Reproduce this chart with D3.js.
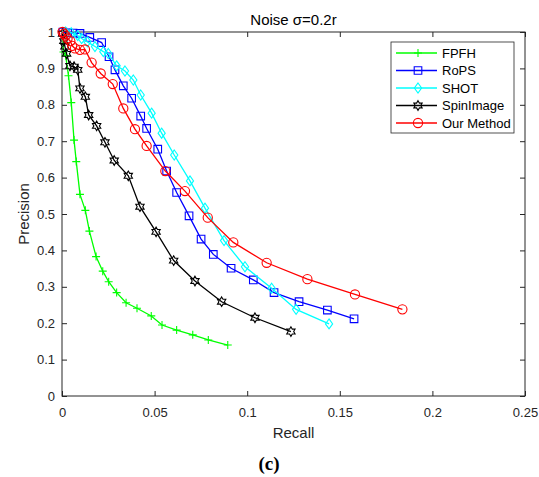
<!DOCTYPE html>
<html>
<head>
<meta charset="utf-8">
<script src="https://cdn.jsdelivr.net/npm/d3@7"></script>
<style>
  html, body { margin: 0; padding: 0; background: #fff; }
  svg { display: block; font-family: "Liberation Sans", Arial, sans-serif; }
  .axis text { fill: #262626; font-size: 13px; }
  .axis line, .axis path { stroke: #262626; }
  .legend text { font-size: 13px; fill: #000; }
</style>
</head>
<body>
<svg id="chart" width="539" height="477"></svg>
<script>
const seriesNames = ["FPFH", "RoPS", "SHOT", "SpinImage", "Our Method"];

const fpfhRecall    = [0.0005, 0.0008, 0.002, 0.0035, 0.005, 0.0065, 0.0077, 0.0097, 0.0126, 0.0148, 0.0184, 0.022, 0.0252, 0.0295, 0.0346, 0.0405, 0.0482, 0.054, 0.0619, 0.0706, 0.079, 0.0895];
const fpfhPrecision = [0.99, 0.945, 0.935, 0.88, 0.806, 0.703, 0.644, 0.554, 0.51, 0.453, 0.383, 0.343, 0.314, 0.284, 0.256, 0.241, 0.22, 0.195, 0.181, 0.168, 0.154, 0.14];

const ropsRecall    = [0.0005, 0.003, 0.006, 0.0097, 0.015, 0.0214, 0.0254, 0.0286, 0.0331, 0.0376, 0.0425, 0.0457, 0.0517, 0.0565, 0.0619, 0.0686, 0.0751, 0.0817, 0.0913, 0.1033, 0.1145, 0.128, 0.1433, 0.1577];
const ropsPrecision = [1.0, 0.998, 0.997, 0.996, 0.985, 0.971, 0.932, 0.896, 0.852, 0.818, 0.769, 0.735, 0.678, 0.618, 0.559, 0.495, 0.431, 0.389, 0.351, 0.319, 0.284, 0.259, 0.236, 0.212];

const shotRecall    = [0.002, 0.005, 0.0085, 0.0106, 0.0137, 0.0178, 0.0223, 0.025, 0.0295, 0.034, 0.0385, 0.0425, 0.0484, 0.0538, 0.0606, 0.0691, 0.0772, 0.0875, 0.0988, 0.1132, 0.1264, 0.1442];
const shotPrecision = [1.0, 0.998, 0.99, 0.982, 0.973, 0.96, 0.946, 0.941, 0.907, 0.893, 0.868, 0.827, 0.777, 0.722, 0.662, 0.591, 0.516, 0.427, 0.355, 0.296, 0.238, 0.198];

const spinRecall    = [0.0003, 0.001, 0.0016, 0.0025, 0.0043, 0.0065, 0.0085, 0.0097, 0.0126, 0.0144, 0.0187, 0.0232, 0.0282, 0.0358, 0.0421, 0.0508, 0.0603, 0.0718, 0.0862, 0.1042, 0.1236];
const spinPrecision = [0.995, 0.975, 0.96, 0.94, 0.907, 0.905, 0.896, 0.845, 0.822, 0.772, 0.742, 0.697, 0.647, 0.605, 0.52, 0.451, 0.372, 0.316, 0.259, 0.215, 0.177];

const oursRecall    = [0.0003, 0.001, 0.002, 0.003, 0.0045, 0.0055, 0.007, 0.0097, 0.0124, 0.016, 0.0209, 0.0274, 0.0331, 0.0394, 0.0457, 0.0558, 0.0664, 0.0787, 0.0925, 0.1105, 0.1325, 0.1582, 0.1838];
const oursPrecision = [1.0, 0.995, 0.99, 0.982, 0.975, 0.962, 0.955, 0.951, 0.952, 0.916, 0.886, 0.857, 0.79, 0.733, 0.687, 0.618, 0.563, 0.49, 0.422, 0.366, 0.321, 0.279, 0.238];

const xTicks = [0, 0.05, 0.1, 0.15, 0.2, 0.25];
const xTickLabels = ["0", "0.05", "0.1", "0.15", "0.2", "0.25"];
const yTicks = [0, 0.1, 0.2, 0.3, 0.4, 0.5, 0.6, 0.7, 0.8, 0.9, 1];
const yTickLabels = ["0", "0.1", "0.2", "0.3", "0.4", "0.5", "0.6", "0.7", "0.8", "0.9", "1"];

const series = [
  { name: seriesNames[0], recall: fpfhRecall, precision: fpfhPrecision, color: "#00ff00", marker: "plus" },
  { name: seriesNames[1], recall: ropsRecall, precision: ropsPrecision, color: "#0000ff", marker: "square" },
  { name: seriesNames[2], recall: shotRecall, precision: shotPrecision, color: "#00ffff", marker: "diamond" },
  { name: seriesNames[3], recall: spinRecall, precision: spinPrecision, color: "#000000", marker: "hexagram" },
  { name: seriesNames[4], recall: oursRecall, precision: oursPrecision, color: "#ff0000", marker: "circle" },
].map((s) => ({ ...s, values: s.recall.map((r, i) => ({ r, p: s.precision[i] })) }));

const W = 539, H = 477;
const m = { top: 32, right: 14, bottom: 81, left: 62 };
const svg = d3.select("#chart");

const x = d3.scaleLinear().domain([0, 0.25]).range([m.left, W - m.right]);
const y = d3.scaleLinear().domain([0, 1]).range([H - m.bottom, m.top]);

// marker shapes (MATLAB style, unfilled)
function markerPath(type) {
  const p = d3.path();
  if (type === "plus") { p.moveTo(-4, 0); p.lineTo(4, 0); p.moveTo(0, -4); p.lineTo(0, 4); }
  else if (type === "square") { p.rect(-3.8, -3.8, 7.6, 7.6); }
  else if (type === "diamond") { p.moveTo(0, -5); p.lineTo(3.6, 0); p.lineTo(0, 5); p.lineTo(-3.6, 0); p.closePath(); }
  else if (type === "circle") { p.moveTo(4.6, 0); p.arc(0, 0, 4.6, 0, 2 * Math.PI); }
  else if (type === "hexagram") {
    const R = 4.8, r = R / Math.sqrt(3);
    for (let i = 0; i < 12; i++) {
      const a = -Math.PI / 2 + i * Math.PI / 6, rr = i % 2 ? r : R;
      if (i === 0) p.moveTo(rr * Math.cos(a), rr * Math.sin(a)); else p.lineTo(rr * Math.cos(a), rr * Math.sin(a));
    }
    p.closePath();
  }
  return p.toString();
}

// axes: ticks point inward, box on all four sides
const innerW = W - m.left - m.right, innerH = H - m.top - m.bottom;
svg.append("rect").attr("x", m.left).attr("y", m.top).attr("width", innerW).attr("height", innerH)
  .attr("fill", "none").attr("stroke", "#262626").attr("stroke-width", 1);

svg.append("g").attr("class", "axis").attr("transform", `translate(0,${H - m.bottom})`)
  .call(d3.axisBottom(x).tickValues(xTicks).tickFormat((d, i) => xTickLabels[i]).tickSizeInner(-5).tickSizeOuter(0).tickPadding(12));
svg.append("g").attr("class", "axis").attr("transform", `translate(0,${m.top})`)
  .call(d3.axisTop(x).tickValues(xTicks).tickFormat("").tickSizeInner(-5).tickSizeOuter(0));
svg.append("g").attr("class", "axis").attr("transform", `translate(${m.left},0)`)
  .call(d3.axisLeft(y).tickValues(yTicks).tickFormat((d, i) => yTickLabels[i]).tickSizeInner(-5).tickSizeOuter(0).tickPadding(7));
svg.append("g").attr("class", "axis").attr("transform", `translate(${W - m.right},0)`)
  .call(d3.axisRight(y).tickValues(yTicks).tickFormat("").tickSizeInner(-5).tickSizeOuter(0));
svg.selectAll(".axis .domain").remove();

// series: line then markers, in plotting order
const lineGen = d3.line().x((d) => x(d.r)).y((d) => y(d.p));
series.forEach((s) => {
  const g = svg.append("g");
  g.append("path").datum(s.values).attr("d", lineGen)
    .attr("fill", "none").attr("stroke", s.color).attr("stroke-width", 1.3);
  g.selectAll("path.mk").data(s.values).join("path").attr("class", "mk")
    .attr("transform", (d) => `translate(${x(d.r)},${y(d.p)})`)
    .attr("d", markerPath(s.marker))
    .attr("fill", "none").attr("stroke", s.color).attr("stroke-width", 1.1);
});

// titles
svg.append("text").attr("x", (m.left + W - m.right) / 2).attr("y", 25).attr("text-anchor", "middle")
  .attr("font-size", 15).attr("fill", "#000").text("Noise σ=0.2r");
svg.append("text").attr("x", (m.left + W - m.right) / 2).attr("y", 438).attr("text-anchor", "middle")
  .attr("font-size", 15).attr("fill", "#262626").text("Recall");
svg.append("text").attr("transform", `translate(29,${(m.top + H - m.bottom) / 2}) rotate(-90)`).attr("text-anchor", "middle")
  .attr("font-size", 15).attr("fill", "#262626").text("Precision");
svg.append("text").attr("x", 269).attr("y", 470).attr("text-anchor", "middle")
  .attr("font-family", "'Liberation Serif', 'Times New Roman', serif").attr("font-weight", "bold")
  .attr("font-size", 19).attr("fill", "#000").text("(c)");

// legend
const lg = svg.append("g").attr("class", "legend").attr("transform", "translate(391,42)");
lg.append("rect").attr("width", 123).attr("height", 91).attr("fill", "#fff").attr("stroke", "#262626").attr("stroke-width", 0.8);
series.forEach((s, i) => {
  const e = lg.append("g").attr("transform", `translate(0,${11 + i * 17.5})`);
  e.append("line").attr("x1", 5).attr("x2", 46).attr("stroke", s.color).attr("stroke-width", 1.3);
  e.append("path").attr("transform", "translate(27,0)").attr("d", markerPath(s.marker))
    .attr("fill", "none").attr("stroke", s.color).attr("stroke-width", 1.1);
  e.append("text").attr("x", 51).attr("y", 4.5).text(s.name);
});
</script>
</body>
</html>
